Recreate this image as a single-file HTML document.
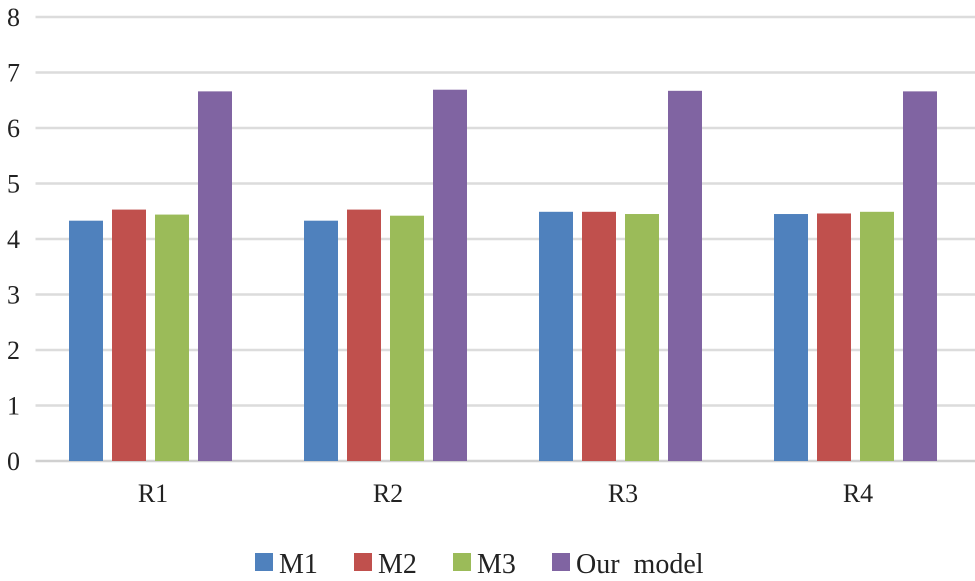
<!DOCTYPE html>
<html><head><meta charset="utf-8"><style>
body{margin:0;background:#fff}
svg{display:block;font-family:"Liberation Serif",serif}
</style></head><body>
<svg width="975" height="581" viewBox="0 0 975 581">
<g id="grid"></g><g id="bars"></g><g id="labels"></g><g id="legend"></g>
</svg>
<script>
const categories=["R1","R2","R3","R4"];
const seriesNames=["M1","M2","M3","Our  model"];
const colors=["#4f81bd","#c0504d","#9bbb59","#8064a2"];
const m1=[4.33,4.33,4.49,4.45];
const m2=[4.53,4.53,4.49,4.46];
const m3=[4.44,4.42,4.45,4.49];
const ours=[6.66,6.69,6.67,6.66];
const yTicks=[0,1,2,3,4,5,6,7,8];
const series=[m1,m2,m3,ours];
const NS="http://www.w3.org/2000/svg";
const x0=35.5,x1=975.5,y0=461,y8=17;
const y=v=>y0-(y0-y8)*v/8;
const bandW=(x1-x0)/categories.length;
const bx=(c,s)=>x0+bandW*c+bandW/2-84+s*43;
function mk(t,a,p){const e=document.createElementNS(NS,t);for(const k in a)e.setAttribute(k,a[k]);p.appendChild(e);return e;}
const G=document.getElementById('grid'),B=document.getElementById('bars'),L=document.getElementById('labels'),LG=document.getElementById('legend');
yTicks.forEach(t=>{
 const l=mk('line',{x1:x0,x2:x1,y1:y(t),y2:y(t),stroke:t===0?'#d0d0d0':'#dcdcdc','stroke-width':2.5},G);
 
 
 const tx=mk('text',{x:20,y:y(t)+9,'text-anchor':'end','font-size':26,fill:'#222'},L);
 tx.textContent=t;
 
 
});
categories.forEach((c,ci)=>{
 series.forEach((s,si)=>{
  const r=mk('rect',{x:bx(ci,si),y:y(s[ci]),width:34,height:y0-y(s[ci]),fill:colors[si]},B);
  
  
 });
 const tx=mk('text',{x:x0+bandW*ci+bandW/2,y:502,'text-anchor':'middle','font-size':26,fill:'#222'},L);
 tx.textContent=c;
 
 
});
const lx=[255,354,453,552];
seriesNames.forEach((n,i)=>{
 const g=mk('g',{},LG);
 
 
 mk('rect',{x:lx[i],y:553,width:18,height:18,fill:colors[i]},g);
 const t=mk('text',{x:lx[i]+24,y:573,'font-size':28,fill:'#222','xml:space':'preserve'},g);
 t.style.whiteSpace='pre';
 t.textContent=n;
});
</script>
</body></html>
